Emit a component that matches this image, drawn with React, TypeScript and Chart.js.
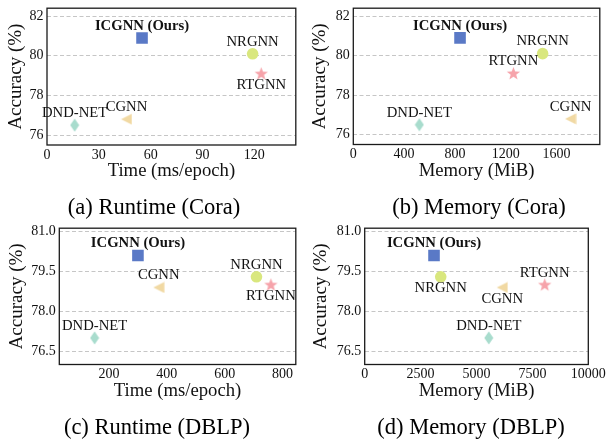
import React, { useEffect, useRef } from 'react';
import { Chart, registerables } from 'chart.js';

Chart.register(...registerables);

// ---------- data ----------
const methods = ['ICGNN (Ours)', 'NRGNN', 'RTGNN', 'CGNN', 'DND-NET'];
const accCora = [80.9, 80.1, 79.1, 76.8, 76.5];
const accDblp = [80.1, 79.3, 79.0, 78.9, 77.0];
const runtimeCora = [55, 119, 124, 46, 16];
const memoryCora = [840, 1490, 1260, 1710, 520];
const runtimeDblp = [300, 710, 760, 372, 150];
const memoryDblp = [3100, 3400, 8050, 6150, 5550];

const xTicksA = [0, 30, 60, 90, 120];
const xTicksB = [0, 400, 800, 1200, 1600];
const xTicksC = [200, 400, 600, 800];
const xTicksD = [0, 2500, 5000, 7500, 10000];
const yTicksCora = [76, 78, 80, 82];
const yTicksDblp = [76.5, 78.0, 79.5, 81.0];

const captions = ['(a) Runtime (Cora)', '(b) Memory (Cora)', '(c) Runtime (DBLP)', '(d) Memory (DBLP)'];
const xTitles = ['Time (ms/epoch)', 'Memory (MiB)', 'Time (ms/epoch)', 'Memory (MiB)'];
const yTitle = 'Accuracy (%)';

// ---------- styles ----------
const FAMILY = "'Liberation Serif', 'Times New Roman', serif";
const colors = ['#5a79c6', '#d9e77e', '#f6a3aa', '#f1d9a3', '#a8dccd'];
const W = 304;
const H = 220;

type PanelCfg = {
  xs: number[];
  ys: number[];
  xTicks: number[];
  xMin: number;
  xMax: number;
  yTicks: number[];
  yMin: number;
  yMax: number;
  yDec: number;
  xTitle: string;
  caption: string;
  sides: string[];
  plot: { l: number; r: number; t: number; b: number };
  left: number;
  top: number;
  capX: number;
  capY: number;
  yTitleX: number;
};

const panels: PanelCfg[] = [
  {
    xs: runtimeCora, ys: accCora, xTicks: xTicksA, xMin: 0, xMax: 144,
    yTicks: yTicksCora, yMin: 75.5, yMax: 82.4, yDec: 0,
    xTitle: xTitles[0], caption: captions[0],
    sides: ['above', 'above', 'below', 'above', 'above'],
    plot: { l: 47, r: 302, t: 4, b: 145 }, left: 0, top: 0, capX: 154, capY: 213.5, yTitleX: 16.3,
  },
  {
    xs: memoryCora, ys: accCora, xTicks: xTicksB, xMin: 0, xMax: 1940,
    yTicks: yTicksCora, yMin: 75.5, yMax: 82.4, yDec: 0,
    xTitle: xTitles[1], caption: captions[1],
    sides: ['above', 'above', 'above', 'above', 'above'],
    plot: { l: 49.3, r: 302.7, t: 4, b: 144.5 }, left: 304, top: 0, capX: 175, capY: 213.5, yTitleX: 16.3,
  },
  {
    xs: runtimeDblp, ys: accDblp, xTicks: xTicksC, xMin: 28, xMax: 846,
    yTicks: yTicksDblp, yMin: 76.0, yMax: 81.13, yDec: 1,
    xTitle: xTitles[2], caption: captions[2],
    sides: ['above', 'above', 'below', 'above', 'above'],
    plot: { l: 59.3, r: 301.7, t: 5.5, b: 144.5 }, left: 0, top: 220, capX: 157, capY: 213.5, yTitleX: 17.5,
  },
  {
    xs: memoryDblp, ys: accDblp, xTicks: xTicksD, xMin: 0, xMax: 10000,
    yTicks: yTicksDblp, yMin: 76.0, yMax: 81.13, yDec: 1,
    xTitle: xTitles[3], caption: captions[3],
    sides: ['above', 'below', 'above', 'below', 'above'],
    plot: { l: 60.7, r: 284.3, t: 5.5, b: 144.5 }, left: 304, top: 220, capX: 167, capY: 213.5, yTitleX: 17.5,
  },
];

function makeCanvas(w: number, h: number, draw: (c: CanvasRenderingContext2D) => void) {
  const cv = document.createElement('canvas');
  cv.width = w;
  cv.height = h;
  const c = cv.getContext('2d')!;
  draw(c);
  return cv;
}

function makeMarkers() {
  const tri = makeCanvas(12, 12, (c) => {
    c.fillStyle = colors[3];
    c.beginPath();
    c.moveTo(0.5, 6);
    c.lineTo(11.5, 0.5);
    c.lineTo(11.5, 11.5);
    c.closePath();
    c.fill();
  });
  const star = makeCanvas(15, 15, (c) => {
    c.fillStyle = colors[2];
    c.beginPath();
    const cx = 7.5, cy = 7.9, ro = 7, ri = 2.9;
    for (let k = 0; k < 10; k++) {
      const a = -Math.PI / 2 + (k * Math.PI) / 5;
      const r = k % 2 === 0 ? ro : ri;
      const px = cx + r * Math.cos(a);
      const py = cy + r * Math.sin(a);
      if (k === 0) c.moveTo(px, py);
      else c.lineTo(px, py);
    }
    c.closePath();
    c.fill();
  });
  const diamond = makeCanvas(10, 14, (c) => {
    c.fillStyle = colors[4];
    c.beginPath();
    c.moveTo(5, 0.5);
    c.lineTo(9.5, 7);
    c.lineTo(5, 13.5);
    c.lineTo(0.5, 7);
    c.closePath();
    c.fill();
  });
  return ['rect', 'circle', star, tri, diamond];
}

const radii = [8.2, 5.8, 7, 6, 6];

function Panel({ p }: { p: PanelCfg }) {
  const ref = useRef<HTMLCanvasElement>(null);
  useEffect(() => {
    if (!ref.current) return;
    const markers = makeMarkers();
    const xTitleSize = 18.7;
    const yTitleSize = 19;
    const xScaleBottom = 171.5 + (xTitleSize * 1.2) / 2;
    const overlay = {
      id: 'overlay',
      afterDatasetsDraw(chart: any) {
        const ctx = chart.ctx;
        chart.data.datasets.forEach((_ds: any, i: number) => {
          const el = chart.getDatasetMeta(i).data[0];
          ctx.save();
          ctx.font = `${i === 0 ? 'bold ' : ''}14.7px ${FAMILY}`;
          ctx.fillStyle = '#111';
          ctx.textAlign = 'center';
          ctx.textBaseline = 'middle';
          ctx.fillText(methods[i], el.x, el.y + (p.sides[i] === 'above' ? -12 : 11.5));
          ctx.restore();
        });
      },
      afterDraw(chart: any) {
        const ctx = chart.ctx;
        const a = chart.chartArea;
        ctx.save();
        ctx.strokeStyle = '#1a1a1a';
        ctx.lineWidth = 1.3;
        ctx.strokeRect(a.left, a.top, a.right - a.left, a.bottom - a.top);
        ctx.font = `22.5px ${FAMILY}`;
        ctx.fillStyle = '#000';
        ctx.textAlign = 'center';
        ctx.textBaseline = 'alphabetic';
        ctx.fillText(p.caption, p.capX, p.capY);
        ctx.restore();
      },
    };
    const chart = new Chart(ref.current, {
      type: 'scatter',
      data: {
        datasets: methods.map((m, i) => ({
          label: m,
          data: [{ x: p.xs[i], y: p.ys[i] }],
          pointStyle: markers[i] as any,
          pointRadius: radii[i],
          pointHoverRadius: radii[i],
          backgroundColor: colors[i],
          borderColor: colors[i],
          borderWidth: 0,
        })),
      },
      options: {
        responsive: false,
        animation: false,
        events: [],
        layout: {
          padding: { left: 0, top: p.plot.t, right: W - p.plot.r, bottom: H - xScaleBottom },
        },
        plugins: { legend: { display: false }, tooltip: { enabled: false } },
        scales: {
          x: {
            type: 'linear',
            min: p.xMin,
            max: p.xMax,
            afterBuildTicks: (s: any) => {
              s.ticks = p.xTicks.map((v) => ({ value: v }));
            },
            afterFit: (s: any) => {
              s.height = xScaleBottom - p.plot.b;
              s.paddingLeft = 0;
              s.paddingRight = 0;
            },
            grid: { display: false, drawTicks: false },
            border: { display: false },
            ticks: {
              padding: 1.5,
              autoSkip: false,
              maxRotation: 0,
              color: '#111',
              font: { family: FAMILY, size: 14 },
              callback: (v: any) => String(v),
            },
            title: {
              display: true,
              text: p.xTitle,
              color: '#111',
              font: { family: FAMILY, size: xTitleSize },
              padding: 0,
            },
          },
          y: {
            type: 'linear',
            min: p.yMin,
            max: p.yMax,
            afterBuildTicks: (s: any) => {
              s.ticks = p.yTicks.map((v) => ({ value: v }));
            },
            afterFit: (s: any) => {
              s.width = p.plot.l;
              s.paddingTop = 0;
              s.paddingBottom = 0;
            },
            grid: { display: true, drawTicks: false, color: '#c6c6c6', lineWidth: 1 },
            border: { display: false, dash: [4, 2.5] },
            ticks: {
              padding: 3.5,
              autoSkip: false,
              color: '#111',
              font: { family: FAMILY, size: 14 },
              callback: (v: any) => Number(v).toFixed(p.yDec),
            },
            title: {
              display: true,
              text: yTitle,
              color: '#111',
              font: { family: FAMILY, size: yTitleSize },
              padding: { top: p.yTitleX - (yTitleSize * 1.2) / 2, bottom: 0 },
            },
          },
        },
      },
      plugins: [overlay],
    });
    return () => chart.destroy();
  }, [p]);
  return (
    <canvas
      ref={ref}
      width={W}
      height={H}
      style={{ position: 'absolute', left: p.left, top: p.top, width: W, height: H }}
    />
  );
}

export default function App() {
  return (
    <div style={{ position: 'absolute', left: 0, top: 0, width: 608, height: 440, background: '#fff' }}>
      {panels.map((p, i) => (
        <Panel key={i} p={p} />
      ))}
    </div>
  );
}
